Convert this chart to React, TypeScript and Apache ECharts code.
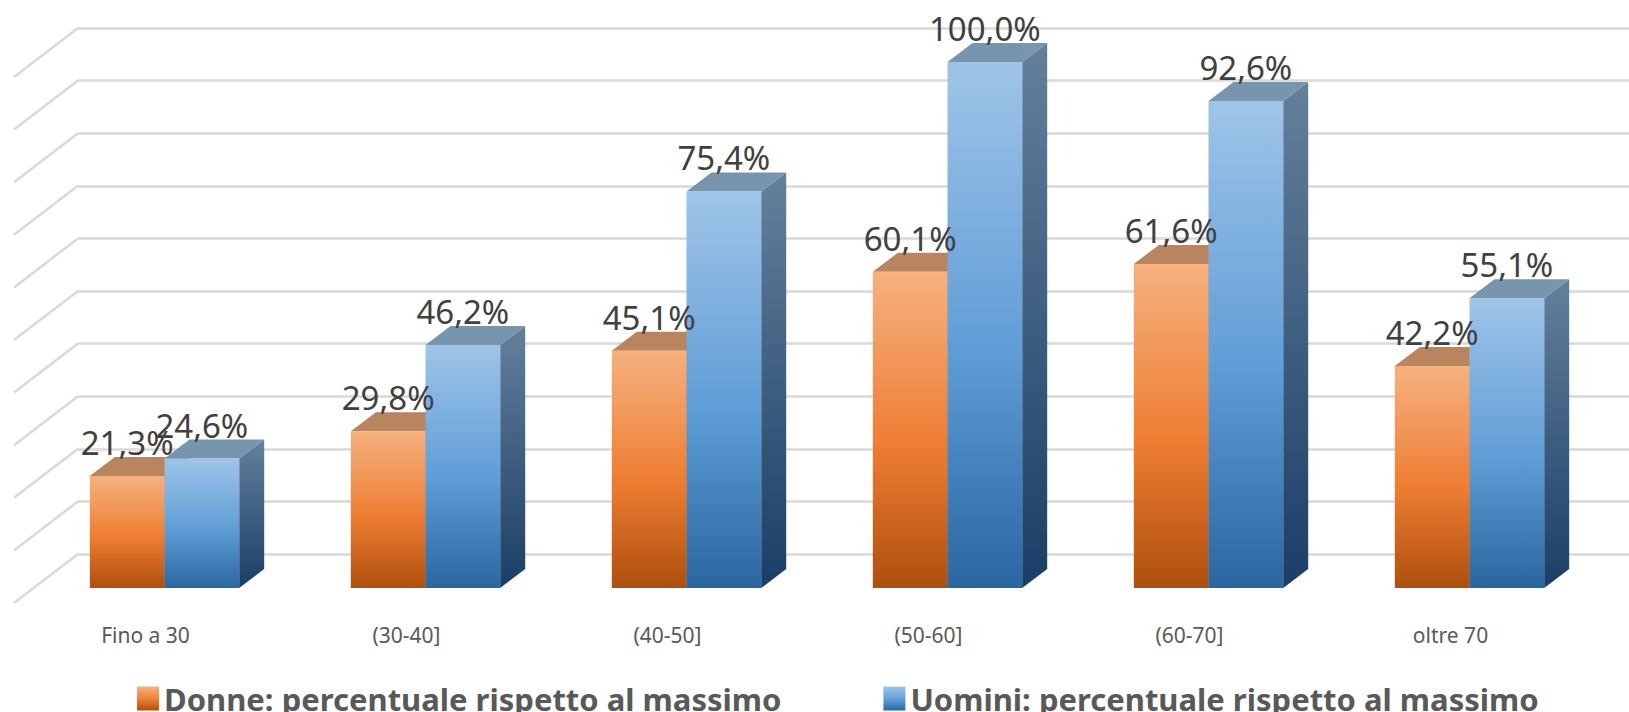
import React, { useEffect, useRef } from "react";
import * as echarts from "echarts";

const categories = ["Fino a 30", "(30-40]", "(40-50]", "(50-60]", "(60-70]", "oltre 70"];
const donne = [21.3, 29.8, 45.1, 60.1, 61.6, 42.2];
const uomini = [24.6, 46.2, 75.4, 100.0, 92.6, 55.1];
const wallTicks = [0, 10, 20, 30, 40, 50, 60, 70, 80, 90, 100];
const donneName = "Donne: percentuale rispetto al massimo";
const uominiName = "Uomini: percentuale rispetto al massimo";

const grad = (stops: [number, string][]) =>
  new echarts.graphic.LinearGradient(0, 0, 0, 1, stops.map(([offset, color]) => ({ offset, color })));

const orangeFront = () => grad([[0, "#f5b17f"], [0.55, "#ee7d32"], [1, "#ae4f0e"]]);
const blueFront = () => grad([[0, "#9fc4e8"], [0.55, "#5f9dd6"], [1, "#2a669f"]]);
const orangeSide = () => grad([[0, "#9a6a48"], [1, "#6e3408"]]);
const blueSide = () => grad([[0, "#64809b"], [1, "#1a3e67"]]);

const DEPTH_X = 25;
const DEPTH_Y = 19;
const BAR_RATIO = 0.2862;

function barSeries(name: string, values: number[], side: -1 | 0, front: () => any, sideFill: () => any, topFill: string) {
  return {
    type: "custom",
    name,
    xAxisIndex: 0,
    yAxisIndex: 0,
    z: 3,
    silent: true,
    clip: false,
    itemStyle: { color: front() },
    data: values.map((v, i) => [i, v]),
    encode: { x: 0, y: 1 },
    renderItem: (_p: any, api: any) => {
      const band = api.size([1, 0])[0];
      const w = band * BAR_RATIO;
      const top = api.coord([api.value(0), api.value(1)]);
      const base = api.coord([api.value(0), 0]);
      const x0 = top[0] + side * w;
      const x1 = x0 + w;
      return {
        type: "group",
        children: [
          {
            type: "polygon",
            shape: { points: [[x1, top[1]], [x1 + DEPTH_X, top[1] - DEPTH_Y], [x1 + DEPTH_X, base[1] - DEPTH_Y], [x1, base[1]]] },
            style: { fill: sideFill() },
          },
          {
            type: "polygon",
            shape: { points: [[x0, top[1]], [x1, top[1]], [x1 + DEPTH_X, top[1] - DEPTH_Y], [x0 + DEPTH_X, top[1] - DEPTH_Y]] },
            style: { fill: topFill },
          },
          {
            type: "rect",
            shape: { x: x0, y: top[1], width: w, height: base[1] - top[1] },
            style: { fill: front() },
          },
        ],
      };
    },
  };
}

function labelSeries(values: number[], side: -1 | 0) {
  return {
    type: "custom",
    xAxisIndex: 0,
    yAxisIndex: 0,
    z: 10,
    silent: true,
    clip: false,
    data: values.map((v, i) => [i, v]),
    encode: { x: 0, y: 1 },
    renderItem: (_p: any, api: any) => {
      const band = api.size([1, 0])[0];
      const w = band * BAR_RATIO;
      const top = api.coord([api.value(0), api.value(1)]);
      return {
        type: "text",
        x: top[0] + side * w + w / 2,
        y: top[1] - 17,
        style: {
          text: api.value(1).toFixed(1).replace(".", ",") + "%",
          font: '33px "Noto Sans"',
          fill: "#404040",
          align: "center",
          verticalAlign: "bottom",
        },
      };
    },
  };
}

export default function App() {
  const ref = useRef<HTMLDivElement>(null);
  useEffect(() => {
    document.body.style.margin = "0";
    const chart = echarts.init(ref.current!, undefined, { renderer: "svg" });
    chart.setOption({
      animation: false,
      backgroundColor: "#ffffff",
      grid: [
        { left: 34, width: 1566, top: 62, height: 526 },
        { left: 78, right: 0, top: 28, height: 526 },
      ],
      xAxis: [
        {
          type: "category",
          gridIndex: 0,
          data: categories,
          axisLine: { show: false },
          axisTick: { show: false },
          axisLabel: {
            margin: 36,
            fontSize: 21,
            color: "#595959",
            fontFamily: "Noto Sans",
            padding: [0, 38, 0, 0],
          },
        },
        { type: "value", gridIndex: 1, min: 0, max: 1, show: false },
      ],
      yAxis: [
        { type: "value", gridIndex: 0, min: 0, max: 100, interval: 10, show: false },
        {
          type: "value",
          gridIndex: 1,
          min: 0,
          max: 100,
          interval: 10,
          axisLine: { show: false },
          axisTick: { show: false },
          axisLabel: { show: false },
          splitLine: { show: true, lineStyle: { color: "#d9d9d9", width: 2.5 } },
        },
      ],
      legend: {
        data: [donneName, uominiName],
        left: 132,
        top: 678,
        itemWidth: 22,
        itemHeight: 24,
        itemGap: 102,
        icon: "rect",
        selectedMode: false,
        textStyle: { fontFamily: "Noto Sans", fontWeight: "bold", fontSize: 31, color: "#595959", padding: [0, 0, 12, 0] },
      },
      series: [
        {
          type: "custom",
          xAxisIndex: 1,
          yAxisIndex: 1,
          z: 1,
          silent: true,
          clip: false,
          data: wallTicks.map((t) => [0, t]),
          encode: { x: 0, y: 1 },
          renderItem: (_p: any, api: any) => {
            const p = api.coord([0, api.value(1)]);
            return {
              type: "line",
              shape: { x1: p[0], y1: p[1], x2: p[0] - 64, y2: p[1] + 49 },
              style: { stroke: "#d9d9d9", lineWidth: 2.5 },
            };
          },
        },
        barSeries(donneName, donne, -1, orangeFront, orangeSide, "#b9855f"),
        barSeries(uominiName, uomini, 0, blueFront, blueSide, "#7895ae"),
        labelSeries(donne, -1),
        labelSeries(uomini, 0),
      ],
    });
    return () => chart.dispose();
  }, []);
  return <div ref={ref} style={{ width: 1629, height: 712, overflow: "hidden" }} />;
}
